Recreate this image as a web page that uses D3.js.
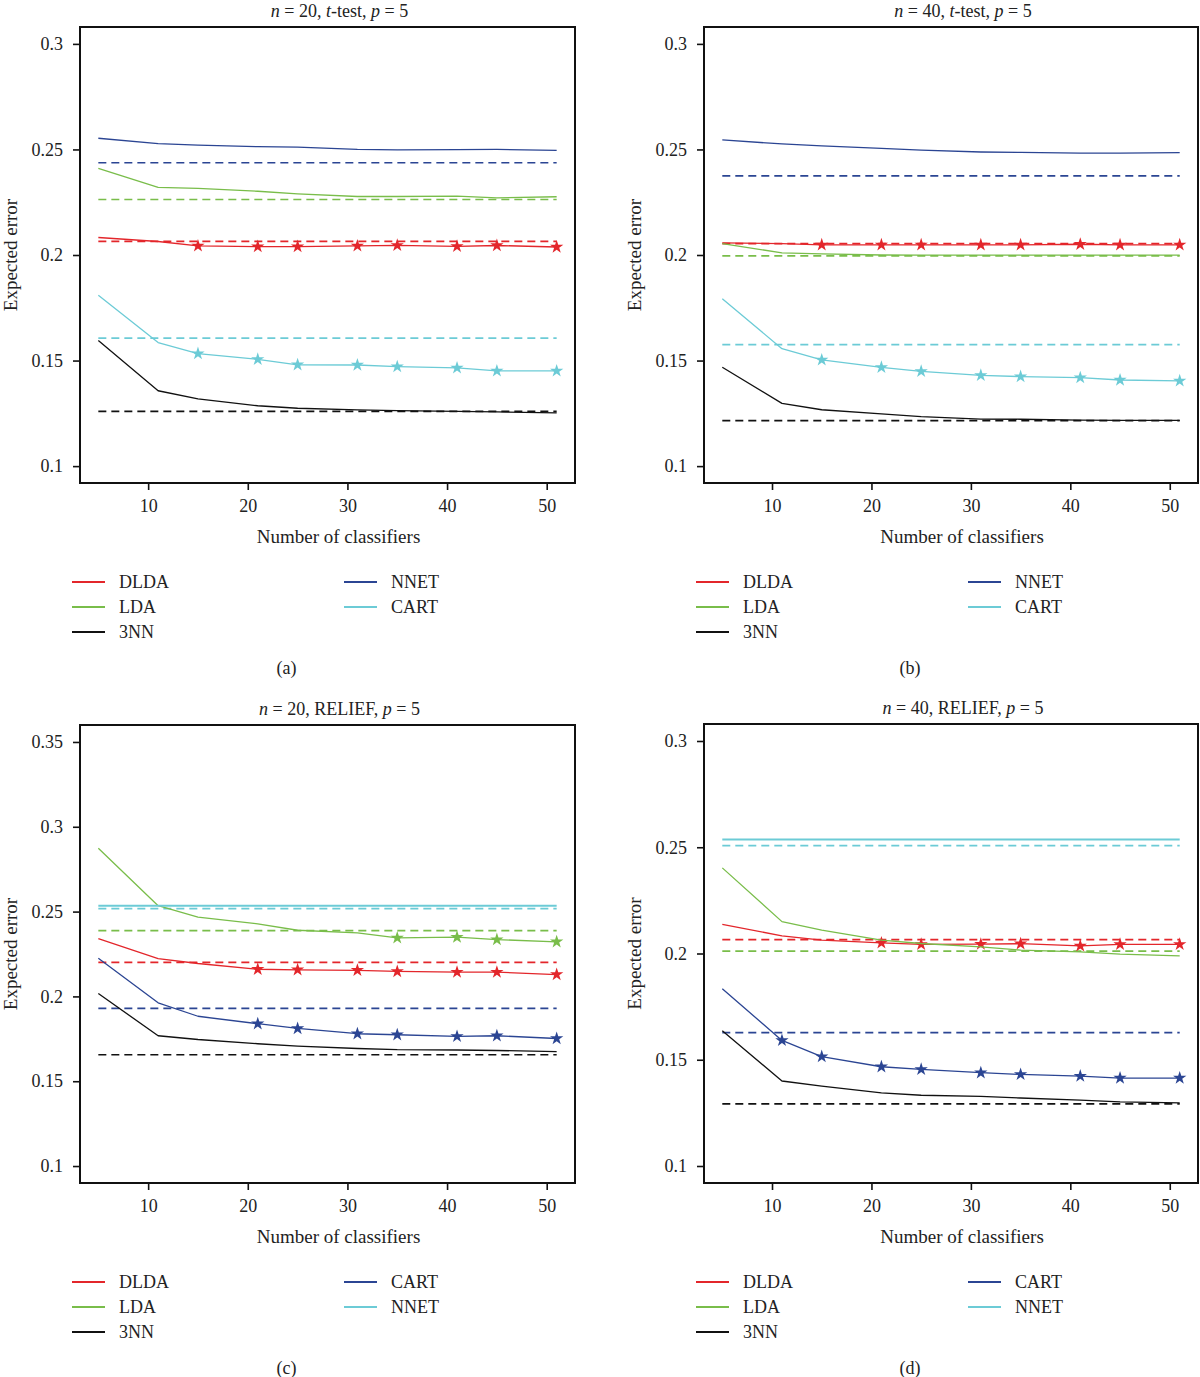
<!DOCTYPE html>
<html>
<head>
<meta charset="utf-8">
<script src="https://cdn.jsdelivr.net/npm/d3@7"></script>
<style>
  html, body { margin: 0; padding: 0; background: #fff; }
  svg { display: block; }
  text { font-family: "Liberation Serif", "Times New Roman", serif; fill: #222; }
</style>
</head>
<body>
<svg id="chart" width="1200" height="1377"></svg>
<script>
// ---------- data ----------
const X_VALUES = [5, 11, 15, 21, 25, 31, 35, 41, 45, 51];
const X_TICKS = [10, 20, 30, 40, 50];
const Y_TICKS_AB = [0.1, 0.15, 0.2, 0.25, 0.3];
const Y_TICK_LABELS_AB = ["0.1", "0.15", "0.2", "0.25", "0.3"];
const Y_TICKS_C = [0.1, 0.15, 0.2, 0.25, 0.3, 0.35];
const Y_TICK_LABELS_C = ["0.1", "0.15", "0.2", "0.25", "0.3", "0.35"];

// Panel (a): n = 20, t-test, p = 5
const a_DLDA = [0.2083, 0.2064, 0.2043, 0.2040, 0.2040, 0.2043, 0.2046, 0.2041, 0.2045, 0.2038];
const a_LDA  = [0.2410, 0.2320, 0.2316, 0.2302, 0.2290, 0.2277, 0.2277, 0.2279, 0.2271, 0.2276];
const a_3NN  = [0.1595, 0.1357, 0.1318, 0.1286, 0.1274, 0.1266, 0.1263, 0.1259, 0.1257, 0.1252];
const a_NNET = [0.2553, 0.2528, 0.2520, 0.2513, 0.2511, 0.2500, 0.2498, 0.2499, 0.2500, 0.2496];
const a_CART = [0.1809, 0.1585, 0.1533, 0.1506, 0.1480, 0.1479, 0.1471, 0.1465, 0.1451, 0.1451];
const a_single = [0.2065, 0.2263, 0.1259, 0.2437, 0.1606];   // DLDA, LDA, 3NN, NNET, CART
const a_starsDLDA = [15, 21, 25, 31, 35, 41, 45, 51];
const a_starsCART = [15, 21, 25, 31, 35, 41, 45, 51];

// Panel (b): n = 40, t-test, p = 5
const b_DLDA = [0.2057, 0.2054, 0.2048, 0.2048, 0.2048, 0.2048, 0.2048, 0.2051, 0.2048, 0.2048];
const b_LDA  = [0.2054, 0.2010, 0.2005, 0.2000, 0.1999, 0.1999, 0.1999, 0.1999, 0.1999, 0.1999];
const b_3NN  = [0.1468, 0.1297, 0.1267, 0.1247, 0.1234, 0.1223, 0.1222, 0.1218, 0.1217, 0.1217];
const b_NNET = [0.2545, 0.2526, 0.2517, 0.2505, 0.2497, 0.2488, 0.2486, 0.2483, 0.2483, 0.2485];
const b_CART = [0.1793, 0.1556, 0.1503, 0.1468, 0.1449, 0.1430, 0.1424, 0.1419, 0.1408, 0.1404];
const b_single = [0.2054, 0.1996, 0.1215, 0.2375, 0.1575];   // DLDA, LDA, 3NN, NNET, CART
const b_starsDLDA = [15, 21, 25, 31, 35, 41, 45, 51];
const b_starsCART = [15, 21, 25, 31, 35, 41, 45, 51];

// Panel (c): n = 20, RELIEF, p = 5
const c_DLDA = [0.2341, 0.2223, 0.2194, 0.2160, 0.2157, 0.2154, 0.2147, 0.2143, 0.2143, 0.2129];
const c_LDA  = [0.2873, 0.2535, 0.2467, 0.2428, 0.2390, 0.2374, 0.2345, 0.2349, 0.2335, 0.2322];
const c_3NN  = [0.2017, 0.1768, 0.1746, 0.1721, 0.1707, 0.1693, 0.1686, 0.1684, 0.1681, 0.1675];
const c_CART = [0.2225, 0.1962, 0.1883, 0.1839, 0.1811, 0.1780, 0.1774, 0.1764, 0.1768, 0.1752];
const c_NNET = [0.2535, 0.2535, 0.2535, 0.2535, 0.2535, 0.2535, 0.2535, 0.2535, 0.2535, 0.2535];
const c_single = [0.2201, 0.2388, 0.1656, 0.1929, 0.2518];   // DLDA, LDA, 3NN, CART, NNET
const c_starsDLDA = [21, 25, 31, 35, 41, 45, 51];
const c_starsLDA  = [35, 41, 45, 51];
const c_starsCART = [21, 25, 31, 35, 41, 45, 51];

// Panel (d): n = 40, RELIEF, p = 5
const d_DLDA = [0.2137, 0.2083, 0.2063, 0.2050, 0.2043, 0.2044, 0.2046, 0.2036, 0.2043, 0.2043];
const d_LDA  = [0.2403, 0.2150, 0.2110, 0.2063, 0.2047, 0.2031, 0.2016, 0.2008, 0.1997, 0.1989];
const d_3NN  = [0.1636, 0.1400, 0.1376, 0.1344, 0.1333, 0.1328, 0.1320, 0.1310, 0.1302, 0.1297];
const d_CART = [0.1834, 0.1591, 0.1515, 0.1467, 0.1455, 0.1439, 0.1431, 0.1423, 0.1414, 0.1414];
const d_NNET = [0.2537, 0.2537, 0.2537, 0.2537, 0.2537, 0.2537, 0.2537, 0.2537, 0.2537, 0.2537];
const d_single = [0.2065, 0.2011, 0.1292, 0.1628, 0.2508];   // DLDA, LDA, 3NN, CART, NNET
const d_starsDLDA = [21, 25, 31, 35, 41, 45, 51];
const d_starsCART = [11, 15, 21, 25, 31, 35, 41, 45, 51];

// ---------- styling / layout ----------
const RED = "#e3262b", GREEN = "#79bd4a", BLACK = "#111111", NAVY = "#2b4593", CYAN = "#6ccbd6";

const panels = [
  { id: "a", title: ["20", "t-test"], left: 80, top: 27, right: 575, bottom: 483,
    yLim: [0.1, 0.3], yTicks: Y_TICKS_AB, yLabels: Y_TICK_LABELS_AB,
    series: [
      { name: "DLDA", values: a_DLDA, single: a_single[0], color: RED, stars: a_starsDLDA },
      { name: "LDA", values: a_LDA, single: a_single[1], color: GREEN, stars: [] },
      { name: "3NN", values: a_3NN, single: a_single[2], color: BLACK, stars: [] },
      { name: "NNET", values: a_NNET, single: a_single[3], color: NAVY, stars: [] },
      { name: "CART", values: a_CART, single: a_single[4], color: CYAN, stars: a_starsCART }
    ] },
  { id: "b", title: ["40", "t-test"], left: 704, top: 27, right: 1198, bottom: 483,
    yLim: [0.1, 0.3], yTicks: Y_TICKS_AB, yLabels: Y_TICK_LABELS_AB,
    series: [
      { name: "DLDA", values: b_DLDA, single: b_single[0], color: RED, stars: b_starsDLDA },
      { name: "LDA", values: b_LDA, single: b_single[1], color: GREEN, stars: [] },
      { name: "3NN", values: b_3NN, single: b_single[2], color: BLACK, stars: [] },
      { name: "NNET", values: b_NNET, single: b_single[3], color: NAVY, stars: [] },
      { name: "CART", values: b_CART, single: b_single[4], color: CYAN, stars: b_starsCART }
    ] },
  { id: "c", title: ["20", "RELIEF"], left: 80, top: 725, right: 575, bottom: 1183,
    yLim: [0.1, 0.35], yTicks: Y_TICKS_C, yLabels: Y_TICK_LABELS_C,
    series: [
      { name: "DLDA", values: c_DLDA, single: c_single[0], color: RED, stars: c_starsDLDA },
      { name: "LDA", values: c_LDA, single: c_single[1], color: GREEN, stars: c_starsLDA },
      { name: "3NN", values: c_3NN, single: c_single[2], color: BLACK, stars: [] },
      { name: "CART", values: c_CART, single: c_single[3], color: NAVY, stars: c_starsCART },
      { name: "NNET", values: c_NNET, single: c_single[4], color: CYAN, stars: [], thick: true }
    ] },
  { id: "d", title: ["40", "RELIEF"], left: 704, top: 724, right: 1198, bottom: 1183,
    yLim: [0.1, 0.3], yTicks: Y_TICKS_AB, yLabels: Y_TICK_LABELS_AB,
    series: [
      { name: "DLDA", values: d_DLDA, single: d_single[0], color: RED, stars: d_starsDLDA },
      { name: "LDA", values: d_LDA, single: d_single[1], color: GREEN, stars: [] },
      { name: "3NN", values: d_3NN, single: d_single[2], color: BLACK, stars: [] },
      { name: "CART", values: d_CART, single: d_single[3], color: NAVY, stars: d_starsCART },
      { name: "NNET", values: d_NNET, single: d_single[4], color: CYAN, stars: [], thick: true }
    ] }
];

const svg = d3.select("#chart");
const star = d3.symbol().type(d3.symbolStar).size(55);

panels.forEach(p => {
  const g = svg.append("g");
  const xr = X_VALUES[X_VALUES.length - 1] - X_VALUES[0];
  const x = d3.scaleLinear()
    .domain([X_VALUES[0] - 0.04 * xr, X_VALUES[X_VALUES.length - 1] + 0.04 * xr])
    .range([p.left, p.right]);
  const yr = p.yLim[1] - p.yLim[0];
  const y = d3.scaleLinear()
    .domain([p.yLim[0] - 0.04 * yr, p.yLim[1] + 0.04 * yr])
    .range([p.bottom, p.top]);
  const cx = (p.left + p.right) / 2;

  // title
  const t = g.append("text").attr("x", cx + 12).attr("y", p.top - 10)
    .attr("text-anchor", "middle").style("font-size", "18px")
    .attr("xml:space", "preserve");
  t.append("tspan").attr("font-style", "italic").text("n");
  t.append("tspan").text(" = " + p.title[0] + ", ");
  if (p.title[1] === "t-test") {
    t.append("tspan").attr("font-style", "italic").text("t");
    t.append("tspan").text("-test, ");
  } else {
    t.append("tspan").text(p.title[1] + ", ");
  }
  t.append("tspan").attr("font-style", "italic").text("p");
  t.append("tspan").text(" = 5");

  // axes
  const yAxis = d3.axisLeft(y).tickValues(p.yTicks).tickSize(7).tickPadding(10)
    .tickFormat((d, i) => p.yLabels[i]);
  const ga = g.append("g").attr("transform", `translate(${p.left},0)`).call(yAxis);
  const xAxis = d3.axisBottom(x).tickValues(X_TICKS).tickSize(7).tickPadding(9)
    .tickFormat(d3.format("d"));
  const gx = g.append("g").attr("transform", `translate(0,${p.bottom})`).call(xAxis);
  [ga, gx].forEach(a => {
    a.select(".domain").remove();
    a.selectAll(".tick line").attr("stroke", "#111").attr("stroke-width", 1.6);
    a.selectAll(".tick text").attr("fill", "#222")
      .style("font-family", "'Liberation Serif', serif").style("font-size", "18px");
  });

  // dashed single-classifier lines
  p.series.forEach(s => {
    g.append("line")
      .attr("x1", x(X_VALUES[0])).attr("x2", x(X_VALUES[X_VALUES.length - 1]))
      .attr("y1", y(s.single)).attr("y2", y(s.single))
      .attr("stroke", s.color).attr("stroke-width", 1.7)
      .attr("stroke-dasharray", "8,5");
  });

  // ensemble lines
  const line = d3.line().x((d, i) => x(X_VALUES[i])).y(d => y(d));
  p.series.forEach(s => {
    g.append("path").datum(s.values).attr("d", line)
      .attr("fill", "none").attr("stroke", s.color)
      .attr("stroke-width", s.thick ? 2 : 1.3).attr("stroke-linejoin", "round");
    s.stars.forEach(sx => {
      const i = X_VALUES.indexOf(sx);
      g.append("path").attr("d", star)
        .attr("transform", `translate(${x(sx)},${y(s.values[i])})`)
        .attr("fill", s.color);
    });
  });

  // box
  g.append("rect").attr("x", p.left).attr("y", p.top)
    .attr("width", p.right - p.left).attr("height", p.bottom - p.top)
    .attr("fill", "none").attr("stroke", "#111").attr("stroke-width", 2);

  // axis titles
  g.append("text").attr("x", cx + 11).attr("y", p.bottom + 60)
    .attr("text-anchor", "middle").style("font-size", "19px").text("Number of classifiers");
  g.append("text")
    .attr("transform", `translate(${p.left - 63},${(p.top + p.bottom) / 2}) rotate(-90)`)
    .attr("text-anchor", "middle").style("font-size", "19px").text("Expected error");

  // legend
  const lx = [p.left - 8, p.left + 264];
  const ly0 = p.bottom + 99;
  p.series.forEach((s, i) => {
    const col = i < 3 ? 0 : 1;
    const row = i < 3 ? i : i - 3;
    const yy = ly0 + row * 25;
    g.append("line").attr("x1", lx[col]).attr("x2", lx[col] + 33)
      .attr("y1", yy).attr("y2", yy).attr("stroke", s.color).attr("stroke-width", 2);
    g.append("text").attr("x", lx[col] + 47).attr("y", yy + 6)
      .style("font-size", "18px").text(s.name);
  });

  // caption
  g.append("text").attr("x", cx - 41).attr("y", p.bottom + 191)
    .attr("text-anchor", "middle").style("font-size", "18px").text(`(${p.id})`);
});
</script>
</body>
</html>
